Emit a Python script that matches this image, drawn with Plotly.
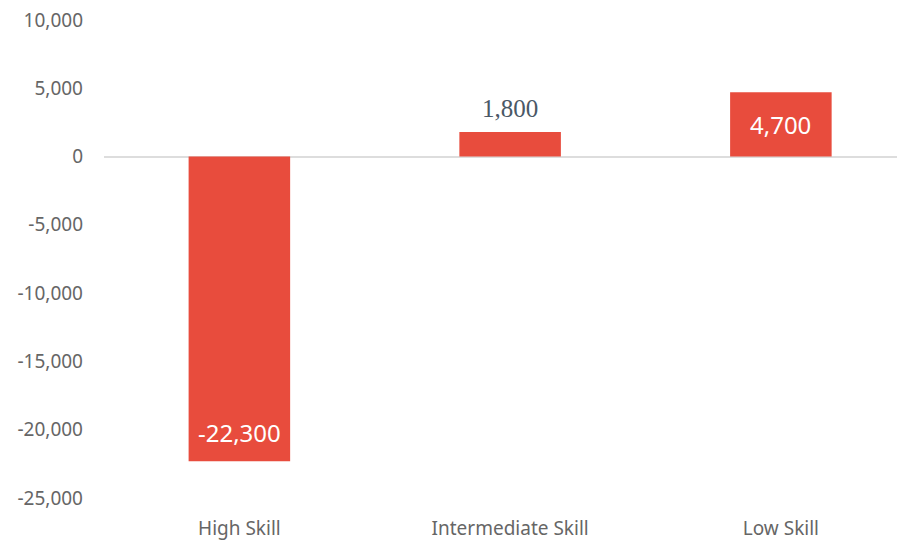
import plotly.graph_objects as go

categories = ["High Skill", "Intermediate Skill", "Low Skill"]
values = [-22300, 1800, 4700]
label_inside = [True, False, True]
y_ticks = [-25000, -20000, -15000, -10000, -5000, 0, 5000, 10000]
y_tick_text = ["-25,000", "-20,000", "-15,000", "-10,000", "-5,000", "0", "5,000", "10,000"]

BAR = "#E84C3D"
SANS = "Source Sans Pro, Noto Sans, sans-serif"

fig = go.Figure()
fig.add_trace(go.Bar(
    x=categories, y=values, marker=dict(color=BAR, line=dict(width=0)),
    width=0.375, hoverinfo="skip",
))

annotations = []
for c, v, inside in zip(categories, values, label_inside):
    txt = f"{v:,}"
    if inside:
        if v < 0:
            annotations.append(dict(x=c, y=v, text=txt, showarrow=False, yanchor="bottom", yshift=10,
                                    font=dict(family=SANS, size=24, color="white")))
        else:
            annotations.append(dict(x=c, y=v / 2, text=txt, showarrow=False, yanchor="middle",
                                    font=dict(family=SANS, size=24, color="white")))
    else:
        annotations.append(dict(x=c, y=v, text=txt, showarrow=False, yanchor="bottom", yshift=8,
                                font=dict(family="Liberation Serif, serif", size=25, color="#4a5866")))

fig.update_layout(
    width=897, height=537,
    margin=dict(l=96, r=5, t=4, b=40),
    paper_bgcolor="white", plot_bgcolor="white",
    showlegend=False,
    annotations=annotations,
    xaxis=dict(range=[-0.5, 2.44], showgrid=False, showline=False, ticks="", automargin=False,
               tickfont=dict(family=SANS, size=19, color="#666666"), ticklabelstandoff=10),
    yaxis=dict(range=[-25512, 10580], tickvals=y_ticks, ticktext=y_tick_text, automargin=False,
               showgrid=False, zeroline=True, zerolinecolor="#dddddd", zerolinewidth=2,
               showline=False, ticks="", ticklabelstandoff=20, ticklabeloverflow="allow",
               tickfont=dict(family=SANS, size=19, color="#666666")),
)

fig.write_html("out.html")
